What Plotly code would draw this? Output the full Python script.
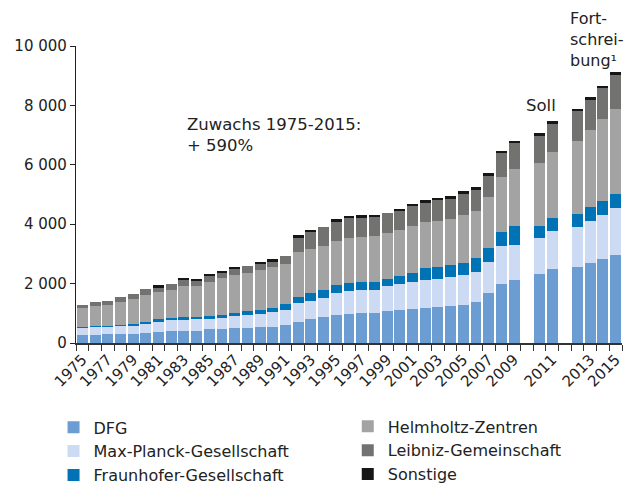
import plotly.graph_objects as go

years = [str(y) for y in range(1975, 2010)] + [" ", "2010", "2011", "  ", "2012", "2013", "2014", "2015"]
bar_years = [str(y) for y in range(1975, 2010)] + ["2010", "2011", "2012", "2013", "2014", "2015"]

dfg = [270, 270, 300, 300, 300, 335, 370, 405, 405, 405, 470, 470, 505, 505, 540, 540, 605, 705, 810, 875,
       940, 975, 1010, 1010, 1077, 1111, 1144, 1178, 1212, 1245, 1279, 1380, 1683, 1986, 2121,
       2323, 2491, 2558, 2693, 2827, 2962]
mpg = [245, 280, 270, 305, 305, 335, 335, 370, 400, 425, 370, 405, 405, 435, 435, 505, 505, 640, 605, 640,
       740, 775, 775, 774, 842, 875, 909, 943, 942, 977, 1010, 1010, 1043, 1279, 1178,
       1211, 1279, 1347, 1414, 1482, 1582]
fhg = [25, 20, 10, 10, 35, 35, 100, 70, 60, 35, 65, 65, 100, 135, 135, 135, 200, 200, 270, 270,
       270, 270, 270, 269, 235, 269, 303, 404, 404, 403, 404, 471, 472, 471, 639,
       404, 438, 437, 471, 471, 471]
hgf = [640, 675, 695, 765, 840, 910, 910, 940, 1050, 1055, 1145, 1245, 1280, 1280, 1345, 1380, 1345, 1515, 1480, 1480,
       1480, 1515, 1515, 1549, 1549, 1549, 1582, 1548, 1549, 1549, 1616, 1582, 1716, 1852, 1919,
       2121, 2221, 2457, 2592, 2760, 2861]
wgl = [100, 135, 135, 170, 170, 200, 170, 200, 195, 170, 200, 170, 200, 235, 200, 200, 270, 505, 570, 640,
       675, 675, 640, 639, 673, 639, 673, 673, 706, 707, 740, 741, 741, 807, 875,
       909, 943, 1010, 1010, 1043, 1145]
sonst = [0, 0, 0, 0, 0, 0, 65, 0, 70, 65, 70, 70, 70, 0, 70, 65, 0, 65, 70, 0,
         65, 65, 100, 68, 0, 68, 68, 67, 68, 67, 67, 67, 67, 68, 68,
         101, 101, 68, 100, 68, 101]

series = [
    ("DFG", dfg, "#6b9dd2", "legend"),
    ("Max-Planck-Gesellschaft", mpg, "#cddaf4", "legend"),
    ("Fraunhofer-Gesellschaft", fhg, "#0072b6", "legend"),
    ("Helmholtz-Zentren", hgf, "#a2a3a2", "legend2"),
    ("Leibniz-Gemeinschaft", wgl, "#727271", "legend2"),
    ("Sonstige", sonst, "#161616", "legend2"),
]

y_ticks = [0, 2000, 4000, 6000, 8000, 10000]
y_ticktext = ["0", "2 000", "4 000", "6 000", "8 000", "10 000"]
x_ticktext = [c if (c.strip() and int(c) % 2 == 1) else "" for c in years]

fig = go.Figure()
for name, vals, col, lg in series:
    fig.add_trace(go.Bar(x=bar_years, y=vals, name=name, marker=dict(color=col, line=dict(width=0)),
                         legend=lg, legendgroup=name))

font = "DejaVu Sans, Verdana, sans-serif"
fig.update_layout(
    width=630, height=488,
    barmode="stack", bargap=0.14,
    paper_bgcolor="white", plot_bgcolor="white",
    margin=dict(l=76, r=8, t=46, b=145, autoexpand=False),
    font=dict(family=font, size=15, color="#222222"),
    xaxis=dict(type="category", categoryorder="array", categoryarray=years, automargin=False,
               tickmode="array", tickvals=years, ticktext=x_ticktext, tickson="boundaries",
               tickangle=-45, ticks="outside", ticklen=6, tickwidth=1.3, tickcolor="#333333",
               showline=True, linecolor="#333333", linewidth=2, showgrid=False,
               tickfont=dict(size=15), range=[-0.5, len(years) - 0.5]),
    yaxis=dict(range=[0, 10000], tickvals=y_ticks, ticktext=y_ticktext, ticks="outside", automargin=False,
               ticklen=5, tickcolor="#222222", showline=True, linecolor="#222222", linewidth=1.3,
               showgrid=False, zeroline=False, tickfont=dict(size=15)),
    legend=dict(x=0.085, y=0.159, xref="container", yref="container", xanchor="left", yanchor="top",
                orientation="v", traceorder="normal", font=dict(size=16), tracegroupgap=0,
                itemwidth=30, bgcolor="rgba(0,0,0,0)"),
    legend2=dict(x=0.552, y=0.161, xref="container", yref="container", xanchor="left", yanchor="top",
                 orientation="v", traceorder="normal", font=dict(size=16), tracegroupgap=0,
                 itemwidth=30, bgcolor="rgba(0,0,0,0)"),
    annotations=[
        dict(xref="paper", yref="paper", x=0.200, y=0.775, xanchor="left", yanchor="top",
             text="Zuwachs 1975-2015:<br>+ 590%", showarrow=False, align="left", font=dict(size=16.5)),
        dict(xref="paper", yref="paper", x=0.82, y=0.80, xanchor="left", yanchor="middle",
             text="Soll", showarrow=False, font=dict(size=16.5)),
        dict(xref="paper", yref="paper", x=0.902, y=1.13, xanchor="left", yanchor="top",
             text="Fort-<br>schrei-<br>bung¹", showarrow=False, align="left", font=dict(size=16)),
    ],
)

fig.write_html("out.html", config={"displayModeBar": False},
               post_script="document.body.style.margin='0';document.body.style.overflow='hidden';")
